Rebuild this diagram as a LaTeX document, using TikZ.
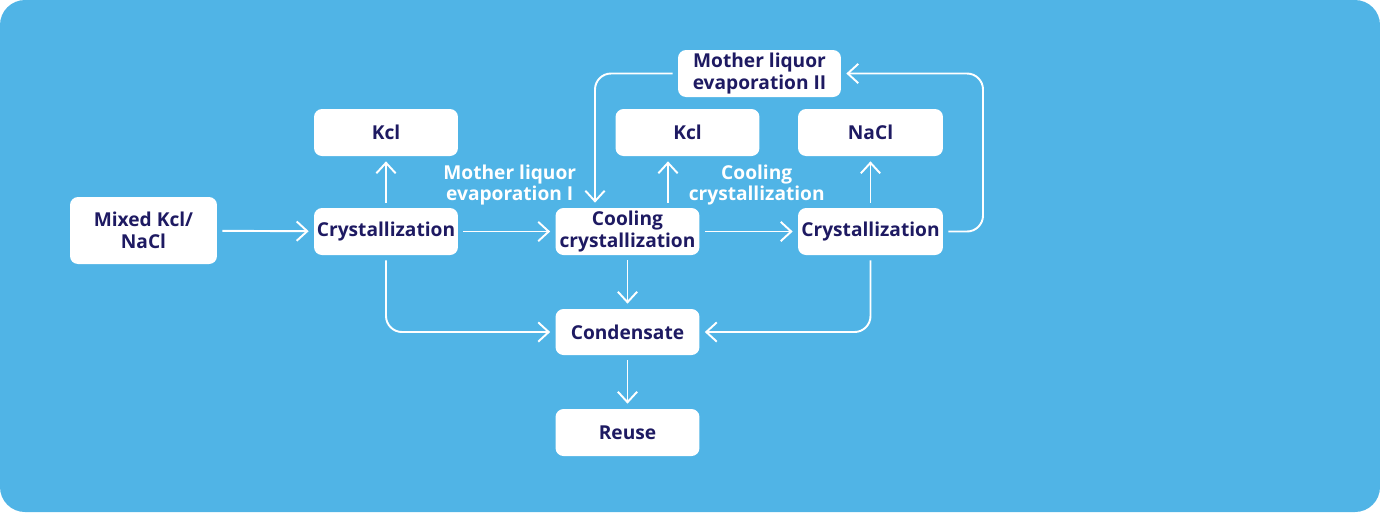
\documentclass[tikz,border=0pt]{standalone}
\usepackage{fontspec}
\setmainfont{Open Sans}
\usetikzlibrary{arrows.meta,calc}
\definecolor{bgblue}{RGB}{80,180,230}
\definecolor{inkblue}{RGB}{30,26,98}
\tikzset{
box/.style={fill=white,rounded corners=0.16cm,minimum width=2.88cm,minimum height=0.94cm,inner sep=1pt,align=center,text=inkblue,font=\bfseries\fontsize{10.9}{12.4}\selectfont},
flow/.style={draw=white,line width=1.1pt,-{Straight Barb[length=6pt,width=11pt]},shorten <=0.1cm,shorten >=0.1cm},
note/.style={text=white,align=center,font=\bfseries\fontsize{10.9}{12}\selectfont}
}

\begin{document}
\begin{tikzpicture}[x=0.02cm,y=-0.02cm]
\useasboundingbox (0,0) rectangle (1380,512);
\fill[bgblue,rounded corners=0.5cm] (0,0) rectangle (1380,512);
\node[box,minimum width=2.94cm,minimum height=1.34cm] (mix) at (143.5,230.5) {Mixed Kcl/\\NaCl};
\node[box] (cryA) at (386,231.5) {Crystallization};
\node[box] (kclA) at (386,132.5) {Kcl};
\node[box] (cool) at (627.5,231.5) {Cooling\\crystallization};
\node[box] (kclB) at (687.5,132.5) {Kcl};
\node[box,minimum width=2.9cm] (nacl) at (870.5,132.5) {NaCl};
\node[box,minimum width=2.9cm] (cryB) at (870.5,231.5) {Crystallization};
\node[box,minimum width=3.26cm] (evapB) at (759.5,73.5) {Mother liquor\\evaporation II};
\node[box,minimum height=0.92cm] (cond) at (627.5,332) {Condensate};
\node[box] (reuse) at (627.5,432.5) {Reuse};
\coordinate (kx) at (668,0);
\coordinate (lx) at (595,0);
\coordinate (rturn) at (983,73.5);
\draw[flow] (mix) -- (cryA);
\draw[flow] (cryA) -- (kclA);
\draw[flow] (cryA) -- node[note,above=11pt,xshift=0.06cm] {Mother liquor\\evaporation I} (cool); %evaporation I
\draw[flow] (cool.north -| kx) -- (kclB.south -| kx);
\draw[flow] (cool) -- node[note,above=11pt,xshift=0.16cm] {Cooling\\crystallization} (cryB);
\draw[flow] (cryB) -- (nacl);
\draw[flow,rounded corners=0.32cm] (cryB.east) -| (rturn) -- (evapB.east); %back to evaporation II
\draw[flow,rounded corners=0.32cm] (evapB.west) -| (cool.north -| lx);
\draw[flow,rounded corners=0.32cm] (cryA.south) |- (cond.west);
\draw[flow] (cool) -- (cond);
\draw[flow,rounded corners=0.32cm] (cryB.south) |- (cond.east);
\draw[flow] (cond) -- (reuse);
\end{tikzpicture}
\end{document}
